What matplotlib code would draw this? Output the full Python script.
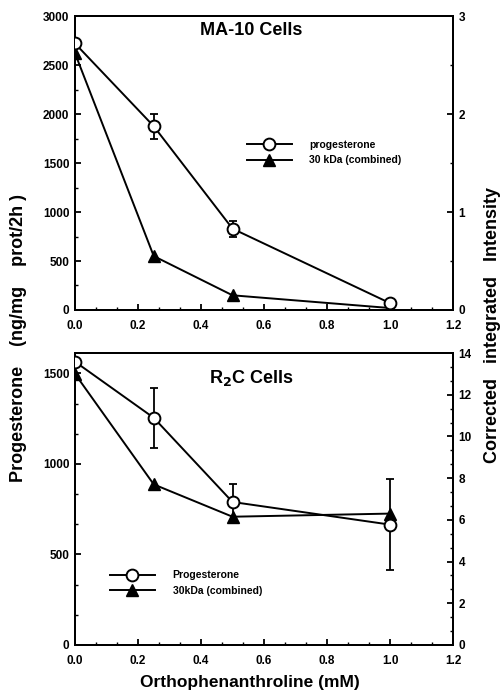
import matplotlib
matplotlib.use("Agg")
import matplotlib.pyplot as plt
from matplotlib.ticker import MultipleLocator

plt.rcParams['font.family'] = ['Liberation Sans', 'DejaVu Sans']

# --- data -------------------------------------------------------------
conc = [0.0, 0.25, 0.5, 1.0]

# MA-10 cells
ma10_prog = [2720, 1875, 830, 70]
ma10_prog_err = [0, 130, 80, 0]
ma10_kda = [2.62, 0.55, 0.15, 0.02]

# R2C cells
r2c_prog = [1565, 1255, 790, 665]
r2c_prog_err = [0, 165, 100, 250]
r2c_kda = [13.0, 7.7, 6.15, 6.3]

x_ticks = [0.0, 0.2, 0.4, 0.6, 0.8, 1.0, 1.2]
x_tick_labels = ['0.0', '0.2', '0.4', '0.6', '0.8', '1.0', '1.2']


def style_axes(ax, ax2, left_max, left_major, left_minor, right_max, right_major, right_minor):
    ax.set_xlim(0, 1.2)
    ax.set_xticks(x_ticks)
    ax.set_xticklabels(x_tick_labels)
    ax.xaxis.set_minor_locator(MultipleLocator(0.2 / 3))
    ax.set_ylim(0, left_max)
    ax.yaxis.set_major_locator(MultipleLocator(left_major))
    ax.yaxis.set_minor_locator(MultipleLocator(left_minor))
    ax2.set_ylim(0, right_max)
    ax2.yaxis.set_major_locator(MultipleLocator(right_major))
    ax2.yaxis.set_minor_locator(MultipleLocator(right_minor))
    for a in (ax, ax2):
        for s in a.spines.values():
            s.set_linewidth(1.4)
        a.tick_params(which='major', direction='in', length=4, width=1.3,
                      labelsize=8.5, pad=4)
        a.tick_params(which='minor', direction='in', length=2.5, width=1.0)
        for lab in a.get_xticklabels() + a.get_yticklabels():
            lab.set_fontweight('bold')
    ax.tick_params(axis='x', pad=7)


fig = plt.figure(figsize=(5.02, 6.96), dpi=100)

line_kw = dict(color='black', linewidth=1.4)
circ_kw = dict(marker='o', markersize=8.5, markerfacecolor='white',
               markeredgecolor='black', markeredgewidth=1.4)
tri_kw = dict(marker='^', markersize=8.5, markerfacecolor='black',
              markeredgecolor='black')
err_kw = dict(fmt='none', ecolor='black', capsize=3, elinewidth=1.3,
              capthick=1.3, zorder=2)
leg_kw = dict(frameon=False, handlelength=4.3, handletextpad=1.7,
              labelspacing=0.55, borderpad=0, borderaxespad=0,
              prop={'weight': 'bold', 'size': 7.5})

# --- MA-10 panel -------------------------------------------------------
ax1 = fig.add_axes([0.1494, 0.5546, 0.753, 0.4224])
ax1b = ax1.twinx()
ax1.errorbar(conc, ma10_prog, yerr=ma10_prog_err, **err_kw)
ax1.plot(conc, ma10_prog, label='progesterone', zorder=3, **line_kw, **circ_kw)
ax1b.plot(conc, ma10_kda, label='30 kDa (combined)', **line_kw, **tri_kw)
style_axes(ax1, ax1b, 3000, 500, 250, 3, 1, 0.5)
ax1.set_zorder(ax1b.get_zorder() + 1)
ax1.patch.set_visible(False)
ax1.text(0.466, 0.952, 'MA-10 Cells', transform=ax1.transAxes, ha='center',
         va='center', fontsize=13, fontweight='bold')

h1, l1 = ax1.get_legend_handles_labels()
h2, l2 = ax1b.get_legend_handles_labels()
ax1.legend(h1 + h2, l1 + l2, loc='center left', bbox_to_anchor=(0.455, 0.536),
           **leg_kw)

# --- R2C panel ---------------------------------------------------------
ax2 = fig.add_axes([0.1494, 0.0733, 0.753, 0.4195])
ax2b = ax2.twinx()
ax2.errorbar(conc, r2c_prog, yerr=r2c_prog_err, **err_kw)
ax2.plot(conc, r2c_prog, label='Progesterone', zorder=3, **line_kw, **circ_kw)
ax2b.plot(conc, r2c_kda, label='30kDa (combined)', **line_kw, **tri_kw)
style_axes(ax2, ax2b, 1613, 500, 500 / 3, 14, 2, 2 / 3)
ax2.set_zorder(ax2b.get_zorder() + 1)
ax2.patch.set_visible(False)
ax2.text(0.466, 0.914, r'R$_\mathbf{2}$C Cells', transform=ax2.transAxes,
         ha='center', va='center', fontsize=13, fontweight='bold')

h1, l1 = ax2.get_legend_handles_labels()
h2, l2 = ax2b.get_legend_handles_labels()
ax2.legend(h1 + h2, l1 + l2, loc='center left', bbox_to_anchor=(0.0926, 0.212),
           **leg_kw)

# --- shared labels -------------------------------------------------------
fig.text(0.036, 0.515, 'Progesterone    (ng/mg    prot/2h )', rotation=90,
         ha='center', va='center', fontsize=13, fontweight='bold')
fig.text(0.982, 0.533, 'Corrected   integrated   Intensity', rotation=90,
         ha='center', va='center', fontsize=13, fontweight='bold')
fig.text(0.498, 0.02, 'Orthophenanthroline (mM)', ha='center', va='center',
         fontsize=12.5, fontweight='bold')

fig.savefig('out.png', dpi=100)
